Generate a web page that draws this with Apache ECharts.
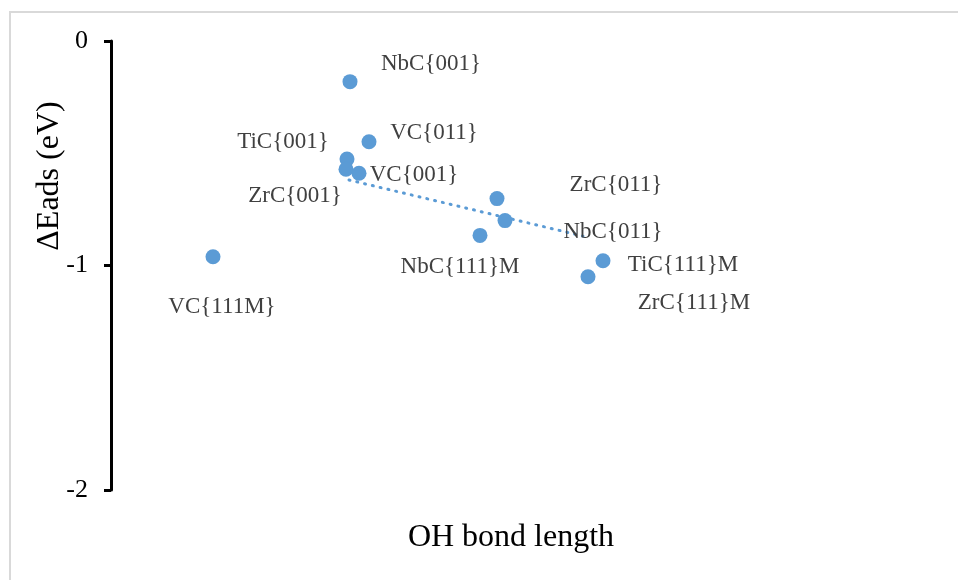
<!DOCTYPE html>
<html>
<head>
<meta charset="utf-8">
<script src="https://cdn.jsdelivr.net/npm/echarts@6/dist/echarts.min.js"></script>
<style>html,body{margin:0;padding:0;background:#fff;}#c{width:958px;height:580px;}</style>
</head>
<body>
<div id="c"></div>
<script>
// ---- data ----
const categories = ['NbC{001}','VC{011}','TiC{001}','ZrC{001}','VC{001}','ZrC{011}','NbC{011}','NbC{111}M','TiC{111}M','ZrC{111}M','VC{111M}'];
const xValues = [2.39, 2.58, 2.36, 2.35, 2.48, 3.86, 3.94, 3.69, 4.92, 4.77, 1.02];   // OH bond length (arbitrary, unlabelled axis)
const yValues = [-0.181, -0.449, -0.526, -0.571, -0.589, -0.702, -0.800, -0.866, -0.979, -1.050, -0.961]; // ΔEads (eV)
const trendX = [2.38, 4.72];
const trendY = [-0.619, -0.869];
const yTickValues = [0, -1, -2];

// ---- label layout (pixel offsets of labels from their points) ----
const labelOffsets = [[81,-18],[65,-9],[-64,-17],[-51,27],[55,2],[119,-14],[108,11],[-20,32],[80,4],[106,26],[9,50]];

const FONT = '"Liberation Serif", "Times New Roman", serif';
const chart = echarts.init(document.getElementById('c'), null, {renderer:'canvas'});

const pointData = categories.map((n, i) => ({
  name: n,
  value: [xValues[i], yValues[i]],
  label: { offset: labelOffsets[i] }
}));

chart.setOption({
  backgroundColor: '#ffffff',
  animation: false,
  grid: { left: 111, right: 47, top: 41, bottom: 90, containLabel: false },
  xAxis: {
    type: 'value', min: 0, max: 8,
    axisLine: { show: false }, axisTick: { show: false }, axisLabel: { show: false }, splitLine: { show: false },
    name: 'OH bond length', nameLocation: 'middle', nameGap: 32,
    nameTextStyle: { fontFamily: FONT, fontSize: 32, color: '#000' }
  },
  yAxis: {
    type: 'value', min: Math.min(...yTickValues), max: Math.max(...yTickValues), interval: 1,
    axisLine: { show: true, lineStyle: { color: '#000', width: 3 } },
    axisTick: { show: true, inside: false, length: 7, lineStyle: { color: '#000', width: 3 } },
    axisLabel: { fontFamily: FONT, fontSize: 26, color: '#000', margin: 23 },
    splitLine: { show: false }
  },
  graphic: [
    { type: 'rect', shape: { x: 10, y: 12, width: 980, height: 600 }, style: { fill: 'none', stroke: '#d9d9d9', lineWidth: 2 }, silent: true },
    { type: 'text', x: 50, y: 176, rotation: Math.PI / 2,
      style: { text: 'ΔEads (eV)', fontFamily: FONT, fontSize: 32, fill: '#000', align: 'center', verticalAlign: 'middle' } }
  ],
  series: [
    {
      type: 'line', data: trendX.map((x, i) => [x, trendY[i]]), symbol: 'none', z: 1,
      lineStyle: { color: '#5B9BD5', width: 3, type: [1, 7], cap: 'round' }
    },
    {
      type: 'scatter', data: pointData, symbolSize: 15, z: 3,
      itemStyle: { color: '#5B9BD5', opacity: 1 },
      label: { show: true, position: 'inside', formatter: '{b}', fontFamily: FONT, fontSize: 23, color: '#404040', align: 'center', verticalAlign: 'middle' }
    }
  ]
});
</script>
</body>
</html>
